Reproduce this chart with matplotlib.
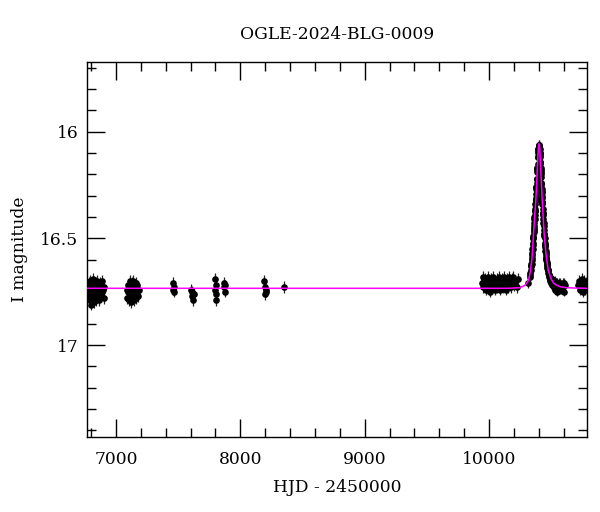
import numpy as np
import matplotlib
matplotlib.use("Agg")
import matplotlib.pyplot as plt
from matplotlib.ticker import MultipleLocator, FuncFormatter

plt.rcParams['font.family'] = ['DejaVu Serif']

title = "OGLE-2024-BLG-0009"
xlabel = "HJD - 2450000"
ylabel = "I magnitude"

# ---- photometry (HJD-2450000, I mag) ----
s1_t = [6776, 6779, 6782, 6785, 6788, 6790, 6793, 6796, 6799, 6802,
        6805, 6808, 6811, 6814, 6817, 6820, 6823, 6826, 6829, 6832,
        6836, 6840, 6843, 6847, 6851, 6855, 6858, 6862, 6866, 6870,
        6874, 6878, 6882, 6886, 6890, 6895, 6900, 6906]
s1_m = [16.75, 16.71, 16.78, 16.74, 16.70, 16.79, 16.75, 16.72, 16.77, 16.81,
        16.74, 16.71, 16.78, 16.75, 16.69, 16.76, 16.80, 16.73, 16.74, 16.78,
        16.71, 16.75, 16.79, 16.74, 16.70, 16.77, 16.73, 16.75, 16.79, 16.74,
        16.71, 16.77, 16.73, 16.75, 16.70, 16.74, 16.78, 16.73]

s2_t = [7088, 7092, 7096, 7100, 7104, 7108, 7112, 7115, 7118, 7121,
        7124, 7127, 7130, 7133, 7136, 7139, 7142, 7145, 7148, 7151,
        7155, 7159, 7163, 7167, 7171, 7176, 7181]
s2_m = [16.74, 16.78, 16.72, 16.75, 16.79, 16.73, 16.76, 16.70, 16.74, 16.80,
        16.75, 16.71, 16.77, 16.74, 16.76, 16.70, 16.75, 16.79, 16.73, 16.77,
        16.74, 16.71, 16.78, 16.75, 16.72, 16.77, 16.74]

s3_t = [7455, 7460, 7465, 7470]
s3_m = [16.71, 16.74, 16.73, 16.75]

s4_t = [7605, 7610, 7615, 7620, 7625]
s4_m = [16.74, 16.75, 16.77, 16.79, 16.76]

s5_t = [7795, 7798, 7801, 7804, 7807, 7868, 7872, 7876, 7880]
s5_m = [16.69, 16.74, 16.76, 16.79, 16.72, 16.71, 16.73, 16.75, 16.72]

s6_t = [8190, 8195, 8200, 8205, 8210, 8351]
s6_m = [16.70, 16.73, 16.76, 16.74, 16.75, 16.727]

s23_t = [9945, 9950, 9956, 9961, 9967, 9972, 9978, 9983, 9989, 9994,
         10000, 10006, 10011, 10017, 10022, 10028, 10033, 10039, 10044, 10050,
         10056, 10061, 10067, 10072, 10078, 10083, 10089, 10094, 10100, 10106,
         10111, 10117, 10122, 10128, 10133, 10139, 10144, 10150, 10156, 10161,
         10167, 10172, 10178, 10184, 10190, 10197, 10205, 10213, 10222, 10231]
s23_m = [16.71, 16.68, 16.73, 16.70, 16.72, 16.69, 16.74, 16.71, 16.68, 16.73,
         16.70, 16.72, 16.75, 16.69, 16.71, 16.73, 16.68, 16.72, 16.70, 16.74,
         16.71, 16.69, 16.73, 16.72, 16.68, 16.71, 16.74, 16.70, 16.72, 16.69,
         16.73, 16.71, 16.68, 16.72, 16.70, 16.74, 16.69, 16.71, 16.73, 16.68,
         16.72, 16.70, 16.73, 16.69, 16.71, 16.68, 16.72, 16.70, 16.73, 16.69]

s24_t = [10318, 10330, 10334, 10338, 10341, 10344, 10347, 10350, 10352, 10355,
         10357, 10360, 10362, 10365, 10367, 10370, 10372, 10375, 10377, 10380,
         10382, 10384, 10386, 10388, 10390, 10392, 10394, 10396, 10398, 10400,
         10401, 10403, 10404, 10406, 10408, 10410, 10412, 10414, 10416, 10418,
         10420, 10422, 10424, 10426, 10428, 10430, 10433, 10435, 10438, 10440,
         10443, 10445, 10448, 10450, 10453, 10456, 10459, 10462, 10465, 10468,
         10472, 10475, 10479, 10483, 10487, 10491, 10495, 10500, 10505, 10510,
         10515, 10520, 10525, 10530, 10536, 10542, 10548, 10554, 10560, 10566,
         10572, 10578, 10585, 10592, 10600, 10608]
s24_m = [16.71, 16.68, 16.66, 16.63, 16.63, 16.60, 16.59, 16.55, 16.55, 16.50,
         16.50, 16.45, 16.46, 16.41, 16.41, 16.37, 16.37, 16.32, 16.32, 16.27,
         16.26, 16.22, 16.22, 16.18, 16.17, 16.12, 16.12, 16.08, 16.09, 16.06,
         16.08, 16.06, 16.09, 16.07, 16.10, 16.10, 16.14, 16.15, 16.18, 16.20,
         16.24, 16.25, 16.28, 16.30, 16.33, 16.34, 16.38, 16.39, 16.43, 16.44,
         16.48, 16.49, 16.52, 16.53, 16.56, 16.57, 16.59, 16.60, 16.62, 16.63,
         16.65, 16.65, 16.67, 16.67, 16.69, 16.68, 16.70, 16.70, 16.69, 16.72,
         16.70, 16.73, 16.71, 16.74, 16.71, 16.72, 16.75, 16.72, 16.71, 16.74,
         16.74, 16.72, 16.73, 16.71, 16.75, 16.72]

s24b_t = [10332, 10336, 10340, 10343, 10346, 10349, 10351, 10354, 10356, 10359,
          10361, 10364, 10366, 10369, 10371, 10374, 10376, 10379, 10381, 10383,
          10385, 10387, 10389, 10391, 10393, 10395, 10397, 10399, 10402, 10405,
          10407, 10409, 10411, 10413, 10415, 10417, 10419, 10421, 10423, 10425,
          10427, 10429, 10432, 10434, 10437, 10439, 10442, 10444, 10447, 10449,
          10452, 10455, 10458, 10461, 10464, 10467, 10470, 10474, 10477, 10481,
          10485, 10489, 10493, 10498, 10503, 10508, 10513, 10518, 10523, 10528,
          10533, 10539, 10545, 10551, 10557, 10563, 10569, 10575, 10582, 10589,
          10596, 10604]
s24b_m = [16.67, 16.65, 16.62, 16.62, 16.58, 16.57, 16.53, 16.52, 16.49, 16.47,
          16.44, 16.43, 16.40, 16.39, 16.36, 16.34, 16.31, 16.29, 16.26, 16.24,
          16.22, 16.19, 16.17, 16.15, 16.12, 16.10, 16.08, 16.07, 16.07, 16.07,
          16.08, 16.11, 16.12, 16.14, 16.17, 16.19, 16.21, 16.24, 16.27, 16.28,
          16.31, 16.33, 16.36, 16.38, 16.41, 16.43, 16.46, 16.48, 16.50, 16.53,
          16.54, 16.56, 16.58, 16.59, 16.61, 16.62, 16.64, 16.65, 16.66, 16.67,
          16.68, 16.69, 16.70, 16.69, 16.71, 16.70, 16.72, 16.71, 16.73, 16.72,
          16.70, 16.73, 16.71, 16.73, 16.74, 16.72, 16.71, 16.73, 16.74, 16.72,
          16.73, 16.71]

s25_t = [10718, 10724, 10730, 10736, 10742, 10748, 10754, 10760, 10766, 10772,
         10778, 10784, 10790]
s25_m = [16.72, 16.70, 16.74, 16.71, 16.73, 16.69, 16.75, 16.72, 16.70, 16.74,
         16.71, 16.73, 16.72]

mag_err = 0.027
peak_err = 0.022

# ---- model curve ----
model_t = [6760, 10150, 10249, 10290, 10315, 10330, 10345, 10356, 10366, 10376,
           10383, 10389, 10396, 10399, 10402, 10405, 10408, 10416, 10429, 10444,
           10460, 10477, 10500, 10520, 10545, 10575, 10620, 10700, 10800]
model_m = [16.734, 16.734, 16.731, 16.72, 16.70, 16.665, 16.60, 16.50, 16.41, 16.33,
           16.25, 16.17, 16.09, 16.066, 16.056, 16.058, 16.075, 16.17, 16.33, 16.48,
           16.58, 16.650, 16.69, 16.71, 16.72, 16.727, 16.731, 16.733, 16.734]

xlim = (6769, 10791)
ylim = (17.43, 15.674)

fig = plt.figure(figsize=(6.0, 5.12), dpi=100)
ax = fig.add_axes([87.3/600, 1 - 436.7/512, 500/600, (436.7 - 62.3)/512])

groups = [(s1_t, s1_m, mag_err), (s2_t, s2_m, mag_err), (s3_t, s3_m, mag_err),
          (s4_t, s4_m, mag_err), (s5_t, s5_m, mag_err), (s6_t, s6_m, mag_err),
          (s23_t, s23_m, mag_err), (s24_t, s24_m, peak_err),
          (s24b_t, s24b_m, peak_err), (s25_t, s25_m, mag_err)]
for t, m, e in groups:
    ax.errorbar(t, m, yerr=e, fmt='o', color='black', ms=4.8, mew=0,
                ecolor='#222222', elinewidth=0.9, capsize=2.5, capthick=0.9, zorder=2)

ax.plot(model_t, model_m, color='#ff00ff', lw=1.1, zorder=3)

ax.set_xlim(*xlim)
ax.set_ylim(*ylim)
ax.xaxis.set_major_locator(MultipleLocator(1000))
ax.xaxis.set_minor_locator(MultipleLocator(200))
ax.yaxis.set_major_locator(MultipleLocator(0.5))
ax.yaxis.set_minor_locator(MultipleLocator(0.1))
ax.yaxis.set_major_formatter(FuncFormatter(lambda v, p: f"{v:g}"))

fs = 12.3
ax.tick_params(which='both', direction='in', top=True, right=True, width=1.0)
ax.tick_params(which='major', length=13, labelsize=fs)
ax.tick_params(axis='x', which='major', pad=10)
ax.tick_params(axis='y', which='major', pad=6.5)
ax.tick_params(which='minor', length=6.8)
for s in ax.spines.values():
    s.set_linewidth(1.0)

ax.set_title(title, fontsize=fs, pad=17)
ax.set_xlabel(xlabel, fontsize=fs, labelpad=8)
ax.set_ylabel(ylabel, fontsize=fs, labelpad=9)

fig.savefig("out.png", dpi=100)
